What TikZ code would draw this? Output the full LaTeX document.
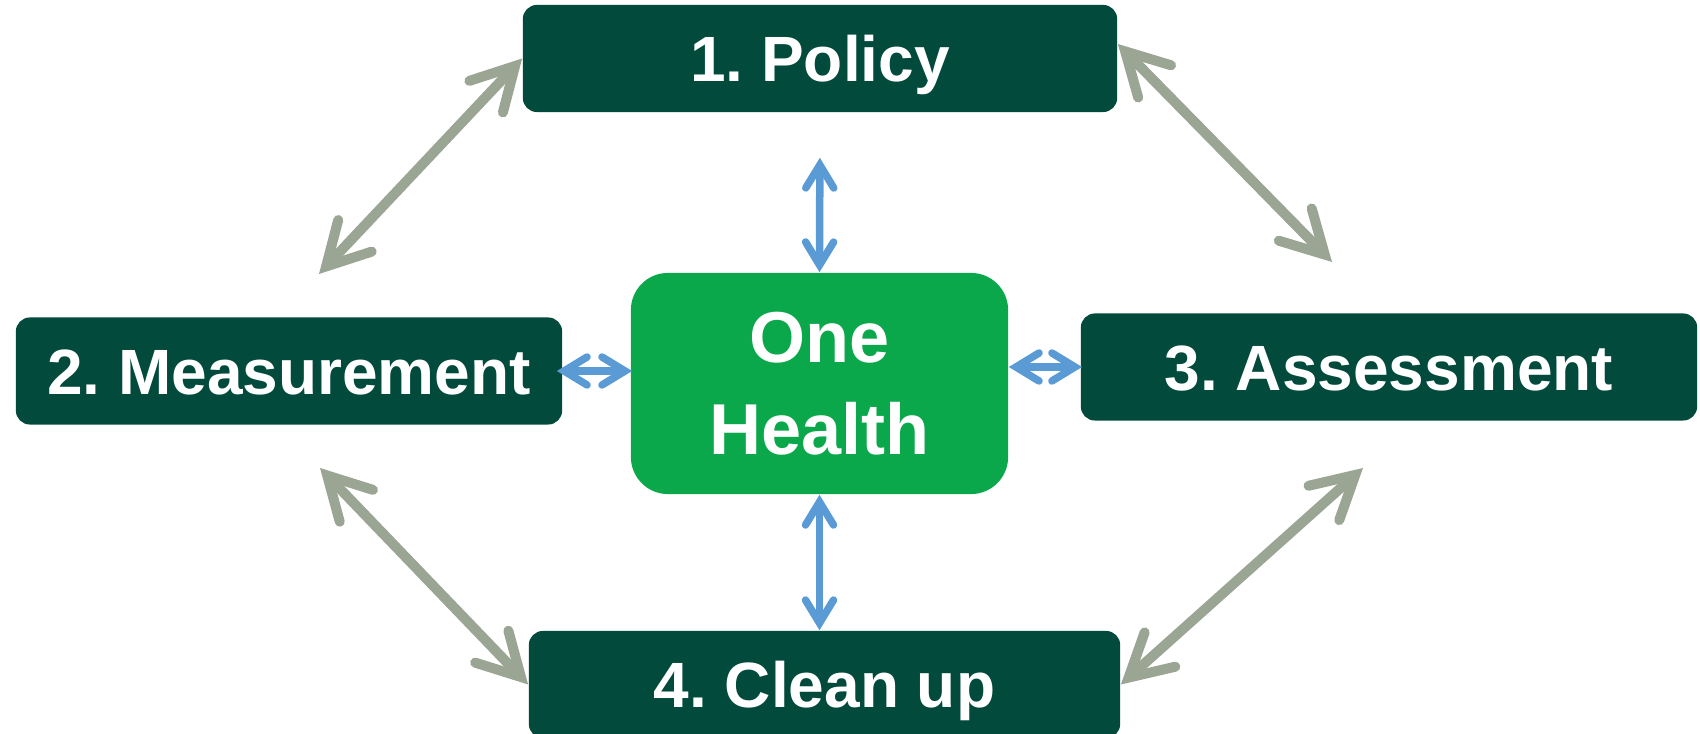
\documentclass[tikz,border=0pt]{standalone}
\usepackage{fontspec}
\setmainfont{Liberation Sans}
\usetikzlibrary{arrows.meta}
\definecolor{darkbox}{RGB}{2,75,60}
\definecolor{ohgreen}{RGB}{11,168,75}
\definecolor{linkgray}{RGB}{155,165,147}
\definecolor{linkblue}{RGB}{91,155,213}
\frenchspacing

\begin{document}
\begin{tikzpicture}[x=0.01cm, y=-0.01cm,
    stage/.style={fill=darkbox, text=white, rounded corners=0.14cm, inner sep=0pt,
      minimum height=1.07cm, text height=0.46cm, text depth=0pt,
      font=\fontsize{18.2}{22}\selectfont\bfseries},
    core/.style={fill=ohgreen, text=white, rounded corners=0.37cm, align=center,
      minimum width=3.77cm, minimum height=2.21cm,
      font=\fontsize{20.5}{26.2}\selectfont\bfseries},
    ring/.style={linkgray, line width=0.1cm, <->,
      >={Straight Barb[length=0.42cm, width=0.46cm, line cap=round, line join=miter]}},
    spoke/.style={linkblue, line width=0.075cm, <->,
      >={Straight Barb[length=0.23cm, width=0.28cm, line cap=round, line join=miter]}}]
		\useasboundingbox (0,0) rectangle (1700,734);
		\node (pol)  [stage, minimum width=5.94cm] at (820,58.5)    {1. Policy};
		\node (meas) [stage, minimum width=5.46cm] at (289,371)     {2. Measurement};
		\node (oh)   [core]                        at (819.5,383.5) {One\\Health};
		\node (ass)  [stage, minimum width=6.16cm] at (1389,367)    {3. Assessment};
		\node (cl)   [stage, minimum width=5.91cm] at (824.5,684.5) {4. Clean up};
		\coordinate (pm) at (319,274);
		\coordinate (pa) at (1332,262);
		\coordinate (mc) at (320,468);
		\coordinate (ac) at (1363,468);
		\draw [ring] (pol.west) -- (pm);
		\draw [ring] ([yshift=0.145cm]pol.east) -- (pa);
		\draw [ring] (mc) -- (cl.west);
		\draw [ring] (ac) -- (cl.east);
		\draw [spoke, shorten <=0.45cm] (pol.south) -- (oh.north);
		\draw [spoke] (oh.south) -- (oh.south |- cl.north);
		\draw [spoke] ([xshift=-0.06cm]meas.east) -- ([xshift=0.02cm]meas.east -| oh.west);
		\draw [spoke] (oh.east |- ass.west) -- ([xshift=0.02cm]ass.west);
\end{tikzpicture}
\end{document}
